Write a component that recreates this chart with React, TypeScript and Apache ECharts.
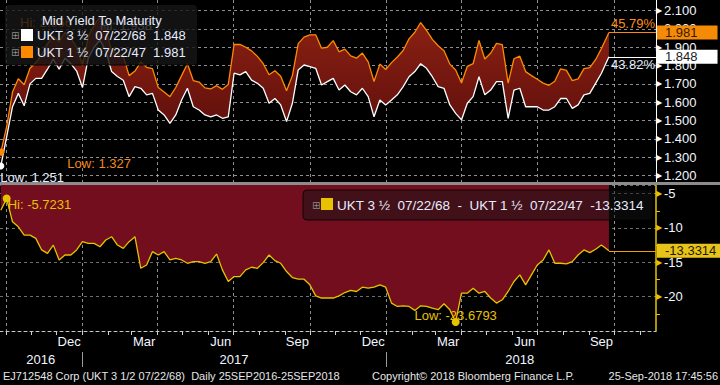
import React, { useEffect, useRef } from 'react';
import * as echarts from 'echarts';

const DAY = 86400000;
const START = Date.UTC(2016, 8, 25);
const END = Date.UTC(2018, 8, 25);
const X_MIN = Date.UTC(2016, 8, 24);
const X_MAX = Date.UTC(2018, 10, 20, 12);

// weekly observation dates, last one is the chart end date
const dates: number[] = [];
for (let k = 0; k < 104; k++) dates.push(START + k * 7 * DAY);
dates.push(END);

// UKT 3 1/2 07/22/68 mid yield (white)
const ukt68 = [
  1.251, 1.41, 1.575, 1.648, 1.58, 1.70, 1.73, 1.73, 1.78, 1.835,
  1.78, 1.84, 1.81, 1.77, 1.68, 1.84, 1.90, 1.938, 1.88, 1.767,
  1.74, 1.72, 1.63, 1.685, 1.676, 1.64, 1.648, 1.557, 1.53, 1.484,
  1.53, 1.612, 1.676, 1.575, 1.557, 1.53, 1.52, 1.53, 1.512, 1.52,
  1.758, 1.749, 1.767, 1.72, 1.703, 1.676, 1.594, 1.62, 1.585, 1.494,
  1.594, 1.776, 1.803, 1.794, 1.785, 1.694, 1.712, 1.73, 1.666, 1.694,
  1.657, 1.64, 1.676, 1.63, 1.52, 1.612, 1.585, 1.612, 1.64, 1.685,
  1.739, 1.767, 1.81, 1.785, 1.739, 1.685, 1.676, 1.585, 1.539, 1.503,
  1.594, 1.63, 1.739, 1.64, 1.666, 1.712, 1.712, 1.512, 1.666, 1.676,
  1.575, 1.575, 1.575, 1.557, 1.557, 1.575, 1.62, 1.62, 1.566, 1.585,
  1.64, 1.648, 1.703, 1.758, 1.848,
];

// UKT 1 1/2 07/22/47 mid yield (orange)
const ukt47 = [
  1.327, 1.466, 1.655, 1.728, 1.695, 1.785, 1.815, 1.86, 1.92, 1.96,
  1.93, 1.98, 1.95, 1.90, 1.80, 1.96, 2.02, 2.066, 1.998, 1.88,
  1.865, 1.85, 1.745, 1.77, 1.82, 1.79, 1.783, 1.68, 1.656, 1.63,
  1.68, 1.745, 1.81, 1.718, 1.71, 1.678, 1.672, 1.69, 1.67, 1.696,
  1.915, 1.916, 1.90, 1.88, 1.85, 1.81, 1.75, 1.772, 1.742, 1.662,
  1.745, 1.92, 1.955, 1.968, 1.968, 1.895, 1.90, 1.936, 1.875, 1.89,
  1.853, 1.84, 1.868, 1.82, 1.713, 1.808, 1.778, 1.816, 1.847, 1.882,
  1.946, 1.982, 2.035, 1.992, 1.943, 1.908, 1.881, 1.808, 1.776, 1.705,
  1.796, 1.81, 1.937, 1.836, 1.867, 1.921, 1.914, 1.704, 1.837, 1.851,
  1.767, 1.745, 1.725, 1.704, 1.692, 1.714, 1.782, 1.774, 1.718, 1.727,
  1.783, 1.789, 1.832, 1.893, 1.981,
];

// spread UKT 68 - UKT 47 (bp)
const spread = [
  -7.42, -5.7231, -9.1, -9.83, -11.04, -11.04, -11.52, -13.2, -13.7, -12.5,
  -14.66, -13.94, -13.94, -13.2, -12.0, -12.25, -12.25, -12.73, -11.76, -11.28,
  -12.49, -12.97, -12.0, -11.28, -15.87, -15.39, -13.45, -13.94, -13.45, -14.66,
  -14.42, -14.66, -15.14, -14.9, -14.9, -15.14, -14.9, -13.8, -16.1, -17.8,
  -17.08, -17.08, -16.1, -15.72, -15.87, -15.05, -13.94, -14.76, -15.14, -16.35,
  -17.22, -17.46, -17.46, -18.28, -19.88, -20.2, -20.2, -20.2, -19.88, -19.4,
  -19.1, -19.25, -18.62, -18.77, -18.62, -18.28, -18.62, -20.94, -21.43, -21.33,
  -21.43, -22.0, -21.33, -21.43, -21.67, -21.9, -21.04, -21.9, -23.6793, -19.5,
  -19.5, -18.77, -19.5, -19.25, -20.2, -20.94, -20.46, -19.25, -17.8, -16.84,
  -18.28, -16.84, -15.39, -14.66, -13.2, -15.14, -15.14, -15.24, -14.9, -13.94,
  -13.2, -13.6, -13.1, -12.49, -13.3314,
];

const topTicks = [1.2, 1.3, 1.4, 1.5, 1.6, 1.7, 1.8, 1.9, 2.0, 2.1];
const monthNames = ['Jan', 'Feb', 'Mar', 'Apr', 'May', 'Jun', 'Jul', 'Aug', 'Sep', 'Oct', 'Nov', 'Dec'];
const monthLabelDates = [
  Date.UTC(2016, 11, 16), Date.UTC(2017, 2, 16), Date.UTC(2017, 5, 16), Date.UTC(2017, 8, 16),
  Date.UTC(2017, 11, 16), Date.UTC(2018, 2, 16), Date.UTC(2018, 5, 16), Date.UTC(2018, 8, 16),
];
const monthStarts: number[] = [];
for (let y = 2016; y <= 2018; y++) for (let m = 0; m < 12; m++) {
  const t = Date.UTC(y, m, 1);
  if (t > X_MIN && t < X_MAX) monthStarts.push(t);
}
const quarterStarts = monthStarts.filter((t) => new Date(t).getUTCMonth() % 3 === 0);
const yearStarts = [Date.UTC(2017, 0, 1), Date.UTC(2018, 0, 1)];
const yearLabelDates = [Date.UTC(2016, 10, 12), Date.UTC(2017, 6, 2), Date.UTC(2018, 5, 10)];

const legendTitle = 'Mid Yield To Maturity';
const name68 = 'UKT 3 ½  07/22/68';
const name47 = 'UKT 1 ½  07/22/47';
const pct47 = '45.79%';
const pct68 = '43.82%';
const footerLeft = 'EJ712548 Corp (UKT 3 1/2 07/22/68)  Daily 25SEP2016-25SEP2018';
const footerMid = 'Copyright© 2018 Bloomberg Finance L.P.';
const footerRight = '25-Sep-2018 17:45:56';

const FONT = '"Liberation Sans", Arial, sans-serif';
const ORANGE = '#ff8a00';
const WHITE = '#ffffff';
const YELLOW = '#e6c200';
const GRID_LINE = { color: 'rgba(190,190,190,0.75)', type: [3, 3] as any, width: 1 };

export default function App() {
  const ref = useRef<HTMLDivElement>(null);
  useEffect(() => {
    if (!ref.current) return;
    const chart = echarts.init(ref.current, undefined, { renderer: 'svg' });
    const n = dates.length;
    const last68 = ukt68[n - 1];
    const last47 = ukt47[n - 1];
    const lastSp = spread[n - 1];
    const pairs = (arr: number[]) => arr.map((v, i) => [dates[i], v]);

    const tag = (bg: string, fg: string, text: string) => ({
      show: true,
      position: 'end',
      distance: 1,
      formatter: text,
      backgroundColor: bg,
      color: fg,
      fontSize: 13,
      fontFamily: FONT,
      padding: [1, 20, 0, 8],
      lineHeight: 13,
    });

    const yLabel = (color: string, dec: number) => ({
      margin: 0,
      formatter: (v: number) => `{t|▶}{v|${dec ? v.toFixed(dec) : String(v)}}`,
      rich: {
        t: { fontSize: 8, color, padding: [0, 2, 0, 0] },
        v: { fontSize: 13, color: '#f2f6ff', fontFamily: FONT },
      },
    });

    const bandFill = new echarts.graphic.LinearGradient(0, 0, 0, 1, [
      { offset: 0, color: '#8c2113' },
      { offset: 1, color: '#520a0a' },
    ]);

    const option: any = {
      animation: false,
      backgroundColor: '#000',
      textStyle: { fontFamily: FONT },
      grid: [
        { left: 0, top: 0, width: 656, height: 182 },
        { left: 0, top: 185, width: 656, height: 146 },
      ],
      xAxis: [
        {
          gridIndex: 0, type: 'value', min: X_MIN, max: X_MAX, position: 'bottom',
          axisLine: { show: false }, axisTick: { show: false, customValues: quarterStarts },
          axisLabel: { show: false }, splitLine: { show: true, lineStyle: GRID_LINE },
        },
        {
          gridIndex: 1, type: 'value', min: X_MIN, max: X_MAX, position: 'bottom',
          axisLine: { show: true, onZero: false, lineStyle: { color: '#c8c8c8', type: [3, 3], width: 1 } },
          axisTick: { show: true, customValues: monthStarts, length: 4, lineStyle: { color: '#d0d0d0' } },
          axisLabel: {
            customValues: monthLabelDates, margin: 4, color: '#f2f6ff', fontSize: 13,
            formatter: (v: number) => monthNames[new Date(v).getUTCMonth()],
          },
          splitLine: { show: false },
        },
        {
          gridIndex: 1, type: 'value', min: X_MIN, max: X_MAX, position: 'top',
          axisLine: { show: false }, axisTick: { show: false, customValues: quarterStarts },
          axisLabel: { show: false }, splitLine: { show: true, lineStyle: GRID_LINE },
        },
        {
          gridIndex: 1, type: 'value', min: X_MIN, max: X_MAX, position: 'bottom', offset: 21,
          axisLine: { show: false },
          axisTick: { show: true, customValues: yearStarts, length: 15, lineStyle: { color: '#9a9a9a' } },
          axisLabel: {
            customValues: yearLabelDates, margin: 1, color: '#f2f6ff', fontSize: 13,
            formatter: (v: number) => String(new Date(v).getUTCFullYear()),
          },
          splitLine: { show: false },
        },
      ],
      yAxis: [
        {
          gridIndex: 0, type: 'value', position: 'right', min: 1.164, max: 2.158,
          axisLine: { show: true, onZero: false, lineStyle: { color: '#ffffff', width: 1 } },
          axisTick: { show: false, customValues: topTicks },
          axisLabel: { ...yLabel('#ffffff', 3), customValues: topTicks },
          splitLine: { show: true, lineStyle: GRID_LINE },
        },
        {
          gridIndex: 1, type: 'value', position: 'right', min: -25, max: -3.75, interval: 5,
          axisLine: { show: true, onZero: false, lineStyle: { color: YELLOW, width: 1.5 } },
          axisTick: { show: false },
          minorTick: { show: true, splitNumber: 2, length: 4, lineStyle: { color: YELLOW } },
          axisLabel: { ...yLabel(YELLOW, 0), showMinLabel: false, showMaxLabel: false },
          splitLine: { show: true, lineStyle: { ...GRID_LINE, color: 'rgba(200,200,200,0.55)' } },
        },
      ],
      series: [
        {
          name: 'band', type: 'custom', xAxisIndex: 0, yAxisIndex: 0, silent: true, z: 1, clip: true,
          data: [[dates[0], ukt47[0]]],
          renderItem: (_params: any, api: any) => {
            const pts: number[][] = [];
            for (let i = 0; i < n; i++) pts.push(api.coord([dates[i], ukt47[i]]));
            for (let i = n - 1; i >= 0; i--) pts.push(api.coord([dates[i], ukt68[i]]));
            return { type: 'polygon', shape: { points: pts }, style: { fill: bandFill } };
          },
        },
        {
          name: name68, type: 'line', xAxisIndex: 0, yAxisIndex: 0, data: pairs(ukt68),
          symbol: 'none', lineStyle: { color: WHITE, width: 1.3 }, z: 3,
          markLine: {
            silent: true, symbol: ['none', 'none'], animation: false,
            lineStyle: { color: WHITE, width: 1, type: 'solid' },
            label: tag('#ffffff', '#1a1a2a', last68.toFixed(3)),
            data: [[{ coord: [END, last68] }, { coord: [X_MAX, last68] }]],
          },
          markPoint: {
            silent: true, animation: false,
            data: [
              {
                type: 'min', symbol: 'circle', symbolSize: 7, itemStyle: { color: WHITE },
                label: { show: true, position: 'right', distance: 0, offset: [-4, 11], formatter: 'Low: {c}', color: '#e8eeff', fontSize: 13 },
              },
              {
                coord: [X_MAX, last68], symbol: 'circle', symbolSize: 0,
                label: { show: true, position: 'left', distance: 1, offset: [0, 8], formatter: pct68, color: '#e8eeff', fontSize: 13 },
              },
            ],
          },
        },
        {
          name: name47, type: 'line', xAxisIndex: 0, yAxisIndex: 0, data: pairs(ukt47),
          symbol: 'none', lineStyle: { color: ORANGE, width: 1.3 }, z: 4,
          markLine: {
            silent: true, symbol: ['none', 'none'], animation: false,
            lineStyle: { color: ORANGE, width: 1, type: 'solid' },
            label: tag('#f58a07', '#3a1800', last47.toFixed(3)),
            data: [[{ coord: [END, last47] }, { coord: [X_MAX, last47] }]],
          },
          markPoint: {
            silent: true, animation: false,
            data: [
              {
                type: 'min', symbol: 'circle', symbolSize: 7, itemStyle: { color: ORANGE },
                label: { show: true, position: 'right', distance: 0, offset: [63, 11], formatter: 'Low: {c}', color: '#f08a1c', fontSize: 13 },
              },
              {
                coord: [X_MAX, last47], symbol: 'circle', symbolSize: 0,
                label: { show: true, position: 'left', distance: 1, offset: [0, -9], formatter: pct47, color: '#ff8c1a', fontSize: 13 },
              },
            ],
          },
        },
        {
          name: 'spread', type: 'line', xAxisIndex: 1, yAxisIndex: 1, data: pairs(spread),
          symbol: 'none', lineStyle: { color: YELLOW, width: 1.3 }, z: 3,
          areaStyle: { origin: 'end', color: '#730e1f', opacity: 1 },
          markLine: {
            silent: true, symbol: ['none', 'none'], animation: false,
            lineStyle: { color: '#f0a000', width: 1, type: 'solid' },
            label: tag('#e8c41a', '#1c1c00', lastSp.toFixed(4)),
            data: [[{ coord: [END, lastSp] }, { coord: [X_MAX, lastSp] }]],
          },
          markPoint: {
            silent: true, animation: false,
            data: [
              {
                type: 'max', symbol: 'circle', symbolSize: 8, itemStyle: { color: YELLOW },
                label: { show: true, position: 'right', distance: 0, offset: [-3, 6], formatter: (p: any) => 'Hi: ' + p.value.toFixed(4), color: YELLOW, fontSize: 13 },
              },
              {
                type: 'min', symbol: 'circle', symbolSize: 8, itemStyle: { color: YELLOW },
                label: { show: true, position: 'inside', offset: [0, -6], formatter: (p: any) => 'Low: ' + p.value.toFixed(4), color: YELLOW, fontSize: 13 },
              },
            ],
          },
        },
      ],
      graphic: [
        { type: 'text', x: 20, y: 22, z: 50, style: { text: 'Hi: ' + Math.max(...ukt47).toFixed(3), fill: ORANGE, font: `13px ${FONT}`, verticalAlign: 'middle' } },
        { type: 'text', x: 100, y: 25, z: 50, style: { text: 'Hi: ' + Math.max(...ukt68).toFixed(3), fill: '#e8eeff', font: `13px ${FONT}`, verticalAlign: 'middle' } },
        { type: 'rect', z: 100, shape: { x: 5, y: 5, width: 192, height: 60, r: 4 }, style: { fill: 'rgba(22,22,22,0.82)' } },
        { type: 'line', z: 100, shape: { x1: 5, y1: 65, x2: 197, y2: 65 }, style: { stroke: '#050505', lineWidth: 1 } },
        { type: 'text', x: 42, y: 20, z: 101, style: { text: legendTitle, fill: '#e6ecff', font: `13px ${FONT}`, verticalAlign: 'middle' } },
        { type: 'text', x: 11, y: 35, z: 101, style: { text: '⊞', fill: '#8a8a8a', font: `10px "DejaVu Sans"`, verticalAlign: 'middle' } },
        { type: 'rect', z: 101, shape: { x: 21, y: 29, width: 12, height: 12 }, style: { fill: WHITE } },
        { type: 'text', x: 37, y: 35, z: 101, style: { text: `${name68}  ${last68.toFixed(3)}`, fill: '#e6ecff', font: `13px ${FONT}`, verticalAlign: 'middle' } },
        { type: 'text', x: 11, y: 52, z: 101, style: { text: '⊞', fill: '#8a8a8a', font: `10px "DejaVu Sans"`, verticalAlign: 'middle' } },
        { type: 'rect', z: 101, shape: { x: 21, y: 46, width: 12, height: 12 }, style: { fill: ORANGE } },
        { type: 'text', x: 37, y: 52, z: 101, style: { text: `${name47}  ${last47.toFixed(3)}`, fill: '#e6ecff', font: `13px ${FONT}`, verticalAlign: 'middle' } },
        { type: 'rect', z: 100, shape: { x: 0, y: 182, width: 720, height: 3 }, style: { fill: '#8c8c8c' } },
        { type: 'rect', z: 100, shape: { x: 303, y: 190, width: 350, height: 30, r: 4 }, style: { fill: 'rgba(18,18,18,0.5)', stroke: 'rgba(0,0,0,0.8)', lineWidth: 1 } },
        { type: 'text', x: 312, y: 205, z: 101, style: { text: '⊞', fill: '#8a8a8a', font: `10px "DejaVu Sans"`, verticalAlign: 'middle' } },
        { type: 'rect', z: 101, shape: { x: 321, y: 198, width: 12, height: 12 }, style: { fill: YELLOW } },
        { type: 'text', x: 337, y: 205, z: 101, style: { text: `${name68}  -  ${name47}  ${lastSp.toFixed(4)}`, fill: '#e6ecff', font: `13.5px ${FONT}`, verticalAlign: 'middle' } },
        { type: 'text', x: 3, y: 376, z: 101, style: { text: footerLeft, fill: '#e6e6e6', font: `11px ${FONT}`, verticalAlign: 'middle' } },
        { type: 'text', x: 372, y: 376, z: 101, style: { text: footerMid, fill: '#e6e6e6', font: `11px ${FONT}`, verticalAlign: 'middle' } },
        { type: 'text', x: 718, y: 376, z: 101, style: { text: footerRight, fill: '#e6e6e6', font: `11px ${FONT}`, align: 'right', verticalAlign: 'middle' } },
      ],
    };
    chart.setOption(option);
    return () => chart.dispose();
  }, []);
  return (
    <div
      ref={ref}
      style={{ position: 'fixed', left: 0, top: 0, width: 720, height: 385, background: '#000' }}
    />
  );
}
